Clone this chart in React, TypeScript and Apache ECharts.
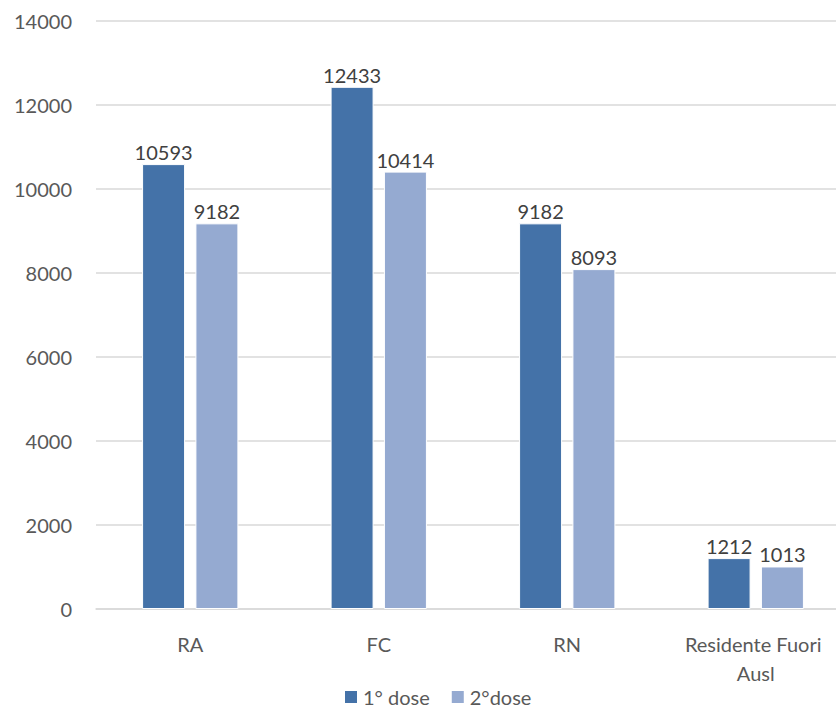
import React, { useEffect, useRef } from "react";
import * as echarts from "echarts";

const categories = ["RA", "FC", "RN", "Residente Fuori Ausl"];
const dose1 = [10593, 12433, 9182, 1212];
const dose2 = [9182, 10414, 8093, 1013];
const seriesNames = ["1° dose", "2°dose"];

export default function App() {
  const ref = useRef<HTMLDivElement>(null);
  useEffect(() => {
    if (!ref.current) return;
    const chart = echarts.init(ref.current, undefined, { renderer: "svg" });
    const font = "Lato, 'Open Sans', sans-serif";
    chart.setOption({
      animation: false,
      textStyle: { fontFamily: font },
      legend: {
        top: 687,
        left: 343,
        padding: 0,
        itemWidth: 14,
        itemHeight: 14,
        itemGap: 20,
        icon: "rect",
        textStyle: { fontSize: 20, color: "#595959", fontFamily: font },
        data: seriesNames,
      },
      grid: { left: 96, right: 0, top: 21, bottom: 99, containLabel: false },
      xAxis: {
        type: "category",
        data: categories,
        axisLine: { lineStyle: { color: "#D9D9D9", width: 1.5 } },
        axisTick: { show: false },
        axisLabel: {
          fontSize: 20,
          color: "#595959",
          fontFamily: font,
          margin: 20,
          width: 170,
          overflow: "break",
          lineHeight: 29,
          interval: 0,
        },
      },
      yAxis: {
        type: "value",
        min: 0,
        max: 14000,
        interval: 2000,
        axisLine: { show: false },
        axisTick: { show: false },
        splitLine: { lineStyle: { color: "#D9D9D9", width: 1.5 } },
        axisLabel: {
          fontSize: 20,
          color: "#595959",
          fontFamily: font,
          margin: 24,
          formatter: (v: number) => String(v),
        },
      },
      series: [
        {
          name: seriesNames[0],
          type: "bar",
          data: dose1,
          barWidth: 43,
          barGap: "24%",
          itemStyle: { color: "#4472A8", borderColor: "#ffffff", borderWidth: 1 },
          label: { show: true, position: "top", fontSize: 20, color: "#404040", fontFamily: font, distance: 2 },
        },
        {
          name: seriesNames[1],
          type: "bar",
          data: dose2,
          barWidth: 43,
          itemStyle: { color: "#95AAD1", borderColor: "#ffffff", borderWidth: 1 },
          label: { show: true, position: "top", fontSize: 20, color: "#404040", fontFamily: font, distance: 2 },
        },
      ],
    });
    return () => chart.dispose();
  }, []);
  return (
    <div style={{ position: "absolute", left: 0, top: 0, width: 836, height: 708, overflow: "hidden", background: "#fff" }}>
      <div ref={ref} style={{ position: "absolute", left: 0, top: 0, width: 850, height: 708 }} />
    </div>
  );
}
